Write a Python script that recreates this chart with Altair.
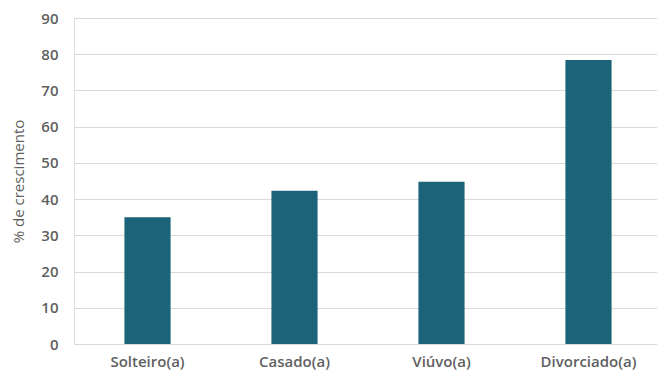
import altair as alt
import pandas as pd

categories = ["Solteiro(a)", "Casado(a)", "Viúvo(a)", "Divorciado(a)"]
values = [35.0, 42.3, 44.8, 78.4]

df = pd.DataFrame({"cat": categories, "val": values})

FONT = "Open Sans"
GRAY = "#5f5f5f"

chart = alt.Chart(df).mark_bar(color="#1b6378").encode(
    x=alt.X("cat:N", sort=categories, title=None,
            scale=alt.Scale(paddingInner=0.686, paddingOuter=0.343, range=[0, 588]),
            axis=alt.Axis(labelAngle=0, labelFont=FONT, labelFontSize=15,
                          labelFontWeight=600, labelColor=GRAY,
                          ticks=False, domain=False, labelPadding=10, grid=False)),
    y=alt.Y("val:Q", title="% de crescimento",
            scale=alt.Scale(domain=[0, 90], nice=False),
            axis=alt.Axis(values=list(range(0, 91, 10)), labelFont=FONT,
                          labelFontSize=15, labelFontWeight=600, labelColor=GRAY,
                          ticks=False, domain=False, labelPadding=16,
                          gridColor="#d9d9d9", gridWidth=1,
                          titleFont=FONT, titleFontSize=15, titleFontWeight="normal",
                          titleColor=GRAY, titlePadding=14)),
).properties(
    width=583, height=326,
    padding={"left": 74, "top": 18, "right": 0, "bottom": 30},
    autosize="none",
).configure_view(stroke=None).configure(background="white")

chart.save("out.html", embed_options={"renderer": "svg", "actions": False})
